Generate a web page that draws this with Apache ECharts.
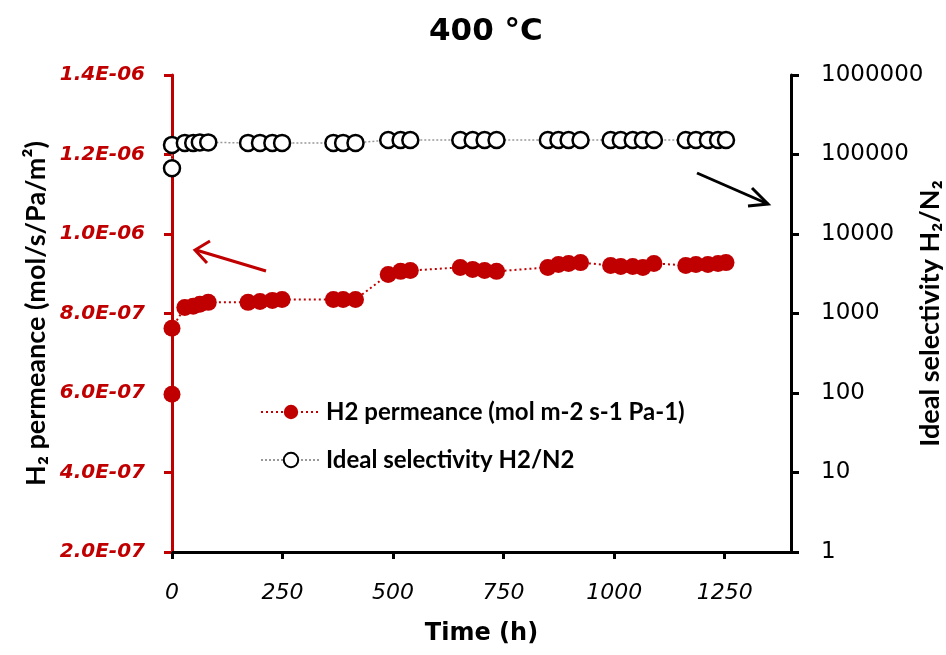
<!DOCTYPE html>
<html lang="en">
<head>
  <meta charset="UTF-8">
  <title>400 °C</title>
  <style>
    * { margin: 0; padding: 0; }
    #main { width: 946px; height: 655px; background: #fff; }
  </style>
</head>
<body>
  <div id="main"></div>
  <script src="https://cdn.jsdelivr.net/npm/echarts@6/dist/echarts.min.js"></script>
  <script>
  // time (h) shared by both series
  var timeH = [0, 0, 29, 48, 63, 82,
    172, 199, 227, 249,
    365, 387, 415,
    489, 517, 539,
    652, 680, 707, 734,
    850, 874, 897, 924,
    992, 1015, 1042, 1065, 1090,
    1162, 1185, 1212, 1235, 1253];

  // H2 permeance (mol m-2 s-1 Pa-1)
  var permeance = [5.97e-7, 7.63e-7, 8.15e-7, 8.18e-7, 8.23e-7, 8.28e-7,
    8.28e-7, 8.30e-7, 8.33e-7, 8.35e-7,
    8.35e-7, 8.35e-7, 8.35e-7,
    8.98e-7, 9.06e-7, 9.08e-7,
    9.16e-7, 9.11e-7, 9.08e-7, 9.06e-7,
    9.16e-7, 9.23e-7, 9.26e-7, 9.28e-7,
    9.21e-7, 9.18e-7, 9.18e-7, 9.16e-7, 9.26e-7,
    9.21e-7, 9.23e-7, 9.23e-7, 9.26e-7, 9.28e-7];

  // ideal selectivity H2/N2
  var selectivity = [67000, 132000, 140000, 140000, 142000, 142000,
    140000, 140000, 140000, 140000,
    140000, 140000, 140000,
    152000, 152000, 152000,
    152000, 152000, 152000, 152000,
    152000, 152000, 152000, 152000,
    152000, 152000, 152000, 152000, 152000,
    152000, 152000, 152000, 152000, 152000];

  var seriesNames = ['H2 permeance (mol m-2 s-1 Pa-1)', 'Ideal selectivity H2/N2'];

  function pairs(xs, ys) {
    return xs.map(function (x, i) { return [x, ys[i]]; });
  }

  // 1.4E-06 style labels
  function sci(v) {
    var s = v.toExponential(1).toUpperCase().split('E');
    var e = parseInt(s[1], 10);
    var sign = e < 0 ? '-' : '+';
    e = Math.abs(e);
    return s[0] + 'E' + sign + (e < 10 ? '0' + e : e);
  }

  var red = '#c00000';
  var chart = echarts.init(document.getElementById('main'));

  var option = {
    animation: false,
    textStyle: { fontFamily: 'Lato' },
    title: {
      text: '400 °C',
      left: 424,
      top: 11,
      textStyle: { fontFamily: 'DejaVu Sans', fontWeight: 'bold', fontSize: 31, color: '#000' }
    },
    grid: { left: 172, right: 155, top: 75, bottom: 103, outerBoundsMode: 'none', containLabel: false },
    legend: {
      orient: 'vertical',
      left: 255,
      top: 395,
      itemWidth: 60,
      itemHeight: 18,
      itemGap: 24,
      data: seriesNames,
      textStyle: { fontFamily: 'Lato', fontWeight: 'bold', fontSize: 24, color: '#000' }
    },
    xAxis: {
      type: 'value',
      min: 0,
      max: 1400,
      interval: 250,
      name: 'Time (h)',
      nameLocation: 'middle',
      nameGap: 70,
      nameTextStyle: { fontFamily: 'DejaVu Sans', fontWeight: 'bold', fontSize: 24, color: '#000' },
      splitLine: { show: false },
      axisLine: { lineStyle: { color: '#000', width: 3 } },
      axisTick: { length: 7, lineStyle: { color: '#000', width: 3 } },
      axisLabel: {
        showMaxLabel: false,
        margin: 30,
        formatter: function (v) { return String(v); },
        fontFamily: 'DejaVu Sans', fontStyle: 'italic', fontSize: 22, color: '#000'
      }
    },
    yAxis: [{
      type: 'value',
      position: 'left',
      min: 2e-7,
      max: 1.4e-6,
      interval: 2e-7,
      name: 'H\u2082 permeance (mol/s/Pa/m\u00b2)',
      nameLocation: 'middle',
      nameGap: 122,
      nameMoveOverlap: false,
      nameTextStyle: { fontFamily: 'Lato', fontWeight: 'bold', fontSize: 27, color: '#000' },
      splitLine: { show: false },
      axisLine: { show: true, lineStyle: { color: red, width: 3 } },
      axisTick: { show: true, length: 8, lineStyle: { color: red, width: 3 } },
      axisLabel: {
        margin: 27,
        formatter: sci,
        fontFamily: 'DejaVu Sans', fontStyle: 'italic', fontWeight: 'bold', fontSize: 20, color: red
      }
    }, {
      type: 'log',
      logBase: 10,
      position: 'right',
      min: 1,
      max: 1000000,
      name: 'Ideal selectivity H\u2082/N\u2082',
      nameLocation: 'middle',
      nameGap: 126,
      nameMoveOverlap: false,
      nameTextStyle: { fontFamily: 'Lato', fontWeight: 'bold', fontSize: 27, color: '#000' },
      splitLine: { show: false },
      minorTick: { show: false },
      axisLine: { show: true, lineStyle: { color: '#000', width: 3 } },
      axisTick: { show: true, length: 8, lineStyle: { color: '#000', width: 3 } },
      axisLabel: {
        margin: 30,
        formatter: function (v) { return String(Math.round(v)); },
        fontFamily: 'DejaVu Sans', fontSize: 23, color: '#000'
      }
    }],
    series: [{
      name: seriesNames[0],
      type: 'line',
      yAxisIndex: 0,
      data: pairs(timeH, permeance),
      symbol: 'circle',
      symbolSize: 17,
      itemStyle: { color: red },
      lineStyle: { color: red, width: 2, type: [2, 3] },
      z: 3
    }, {
      name: seriesNames[1],
      type: 'line',
      yAxisIndex: 1,
      data: pairs(timeH, selectivity),
      symbol: 'circle',
      symbolSize: 16,
      itemStyle: { color: '#fff', borderColor: '#000', borderWidth: 2.5 },
      lineStyle: { color: '#999', width: 1.5, type: [2, 2] },
      z: 4
    }],
    graphic: [
      // red arrow pointing at the left axis
      { type: 'line', shape: { x1: 266, y1: 271, x2: 196, y2: 250 }, style: { stroke: red, lineWidth: 3 } },
      { type: 'polyline', shape: { points: [[210, 241], [195, 250], [207, 263]] }, style: { stroke: red, lineWidth: 3, fill: null } },
      // black arrow pointing at the right axis
      { type: 'line', shape: { x1: 697, y1: 173, x2: 768, y2: 204 }, style: { stroke: '#000', lineWidth: 3 } },
      { type: 'polyline', shape: { points: [[752, 188], [768, 204], [748, 206]] }, style: { stroke: '#000', lineWidth: 3, fill: null } }
    ]
  };

  chart.setOption(option);
  </script>
</body>
</html>
